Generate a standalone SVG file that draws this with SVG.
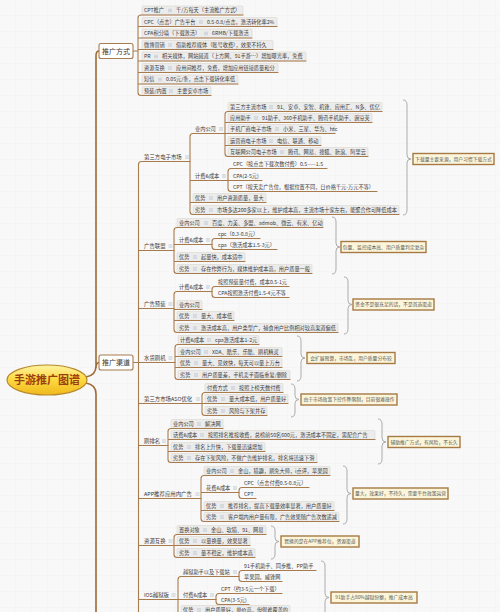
<svg xmlns="http://www.w3.org/2000/svg" width="500" height="612" viewBox="0 0 500 612">
<defs>
<style>
.t{font-family:"Noto Sans CJK SC","Noto Sans",sans-serif;font-size:5.2px;fill:#3a3a3a}
.l2{font-size:5.4px}
.lt{font-size:7px;text-anchor:middle;fill:#333}
.bx{fill:#ececec;stroke:#d9d2c6;stroke-width:0.5}
.ul{stroke:#a87b4c;stroke-width:1.2;fill:none;stroke-linecap:round}
.cn{stroke:#a87b4c;stroke-width:1.1;fill:none}
.mc{stroke:#9c6a35;stroke-width:1.6;fill:none}
.br{stroke:#a4a4a4;stroke-width:0.9;fill:none}
.nb{fill:#fcf5da;stroke:#a57a45;stroke-width:1.4}
.nt{font-family:"Noto Sans CJK SC","Noto Sans",sans-serif;font-size:4.8px;fill:#555;text-anchor:middle}
.lb{fill:#fff;stroke:#a87b4c;stroke-width:1.1}
</style>
<pattern id="grid" width="16" height="16" patternUnits="userSpaceOnUse"><path d="M16,0V16H0" fill="none" stroke="#ededed" stroke-width="0.5"/></pattern>
<linearGradient id="rg" x1="0" y1="0" x2="0" y2="1"><stop offset="0" stop-color="#fff3a0"/><stop offset="0.5" stop-color="#fbd93f"/><stop offset="1" stop-color="#f0b81c"/></linearGradient>
<g id="ic"><path d="M0,-1.3h4M0,0h4M0,1.3h4" stroke="#b4bfca" stroke-width="0.55"/></g>
</defs>
<rect width="500" height="612" fill="#f8f8f8"/>
<rect width="500" height="612" fill="url(#grid)"/>

<g id="connectors">
<path class="mc" d="M86,377C92,376 96,372 96,366V56Q96,51 99,51 M96,368Q96,362.5 99,362.5 M86,383C92,384 96,388 96,394V612"/>
<path class="cn" d="M133,51H138 M138,18V92.5 M138,18Q138,15 141,15H142 M138,26.5H142 M138,38H142 M138,49.5H142 M138,61H142 M138,72.5H142 M138,84H142 M138,92.5Q138,95.5 141,95.5H142"/>
<path class="cn" d="M133,362.5H142 M138.5,164.5V612 M138.5,164.5Q138.5,161.5 141.5,161.5H142 M138.5,250.5H142 M138.5,308.5H142 M138.5,403.5H142 M138.5,445.5H142 M138.5,498.5H142 M138.5,545.5H142 M138.5,599.5H142"/>
<path class="cn" d="M190,136.5V211.5 M190,136.5Q190,133.5 193,133.5 M190,180.5H193 M190,202.5H193 M190,211.5Q190,214.5 193,214.5"/>
<path class="cn" d="M225,114.5V153.5 M225,114.5Q225,111.5 228,111.5 M225,122.5H228 M225,133.5H228 M225,145.5H228 M225,153.5Q225,156.5 228,156.5"/>
<path class="cn" d="M228,171.5V188.5 M228,171.5Q228,168.5 231,168.5 M228,180.5H231 M228,188.5Q228,191.5 231,191.5"/>
<path class="cn" d="M174,230.5V270.5 M174,230.5Q174,227.5 177,227.5 M174,244.5H177 M174,261.5H177 M174,270.5Q174,273.5 177,273.5"/>
<path class="cn" d="M212,241.5V246.5 M212,241.5Q212,238.5 215,238.5 M212,246.5Q212,249.5 215,249.5"/>
<path class="cn" d="M174,294.5V329.5 M174,294.5Q174,291.5 177,291.5 M174,309.5H177 M174,320.5H177 M174,329.5Q174,332.5 177,332.5"/>
<path class="cn" d="M212,289.5V294.5 M212,289.5Q212,286.5 215,286.5 M212,294.5Q212,297.5 215,297.5"/>
<path class="cn" d="M175,347.5V376.5 M175,347.5Q175,344.5 178,344.5 M175,356.5H178 M175,367.5H178 M175,376.5Q175,379.5 178,379.5"/>
<path class="cn" d="M202,395.5V412.5 M202,395.5Q202,392.5 205,392.5 M202,403.5H205 M202,412.5Q202,415.5 205,415.5"/>
<path class="cn" d="M168,431.5V459.5 M168,431.5Q168,428.5 171,428.5 M168,439.5H171 M168,451.5H171 M168,459.5Q168,462.5 171,462.5"/>
<path class="cn" d="M201,478.5V518.5 M201,478.5Q201,475.5 204,475.5 M201,492.5H204 M201,510.5H204 M201,518.5Q201,521.5 204,521.5"/>
<path class="cn" d="M239,490.5V495.5 M239,490.5Q239,487.5 242,487.5 M239,495.5Q239,498.5 242,498.5"/>
<path class="cn" d="M174,537.5V554.5 M174,537.5Q174,534.5 177,534.5 M174,545.5H177 M174,554.5Q174,557.5 177,557.5"/>
<path class="cn" d="M178,579.5V612 M178,579.5Q178,576.5 181,576.5 M178,599.5H181"/>
<path class="cn" d="M239,573.5V578.5 M239,573.5Q239,570.5 242,570.5 M239,578.5Q239,581.5 242,581.5"/>
<path class="cn" d="M216,596.5V601.5 M216,596.5Q216,593.5 219,593.5 M216,601.5Q216,604.5 219,604.5"/>
</g>

<g id="summaries">
<path class="br" d="M403,100Q407,100 407,105V155Q407,159 411,159Q407,159 407,163V210Q407,215 403,215"/>
<path class="br" d="M332,217Q336,217 336,222V243Q336,247 340,247Q336,247 336,251V269Q336,274 332,274"/>
<path class="br" d="M344,277Q348,277 348,282V300.5Q348,304.5 352,304.5Q348,304.5 348,308.5V329Q348,334 344,334"/>
<path class="br" d="M297,336Q301,336 301,341V354Q301,358 305,358Q301,358 301,362V376Q301,381 297,381"/>
<path class="br" d="M291,384Q295,384 295,389V395.5Q295,399.5 299,399.5Q295,399.5 295,403.5V412Q295,417 291,417"/>
<path class="br" d="M378,419Q382,419 382,424V438Q382,442 386,442Q382,442 382,446V459Q382,464 378,464"/>
<path class="br" d="M343,466Q347,466 347,471V489.5Q347,493.5 351,493.5Q347,493.5 347,497.5V519Q347,524 343,524"/>
<path class="br" d="M271,526Q275,526 275,531V537.5Q275,541.5 279,541.5Q275,541.5 275,545.5V554Q275,559 271,559"/>
<path class="br" d="M321,561Q325,561 325,566V593.5Q325,597.5 329,597.5Q325,597.5 325,601.5V635Q325,640 321,640"/>
</g>

<g id="notes">
<g id="note1"><rect class="nb" x="413" y="153.5" width="81" height="11"/><text class="nt" x="453.5" y="160.8">下载量主要来源，用户习惯下载方式</text></g>
<g id="note2"><rect class="nb" x="341" y="241.5" width="85" height="11"/><text class="nt" x="383.5" y="248.8">包量、监控成本高、用户质量判定复杂</text></g>
<g id="note3"><rect class="nb" x="353" y="299" width="81" height="11"/><text class="nt" x="393.5" y="306.3">资金不是很充足的话，不是首选渠道</text></g>
<g id="note4"><rect class="nb" x="307" y="352.5" width="88" height="11"/><text class="nt" x="351" y="359.8">会扩展预算，市场乱，用户质量分布较</text></g>
<g id="note5"><rect class="nb" x="301" y="394" width="96" height="11"/><text class="nt" x="349" y="401.3">由于市场政策下控作弊限制，目前很难操作</text></g>
<g id="note6"><rect class="nb" x="388" y="436.5" width="72" height="11"/><text class="nt" x="424" y="443.8">辅助推广方式，有风险，不长久</text></g>
<g id="note7"><rect class="nb" x="353" y="488" width="95" height="11"/><text class="nt" x="400.5" y="495.3">量大，效果好，不持久，需要平台政策运营</text></g>
<g id="note8"><rect class="nb" x="281" y="536" width="78" height="11"/><text class="nt" x="320" y="543.3">置换的是在APP推荐位，资源渠道</text></g>
<g id="note9"><rect class="nb" x="331" y="592" width="86" height="11"/><text class="nt" x="374" y="599.3">91助手占80%越狱份额，推广成本高</text></g>
</g>

<g id="root"><ellipse cx="47" cy="380" rx="40" ry="15" fill="url(#rg)" stroke="#b8892c" stroke-width="1.2"/><text x="47" y="384" text-anchor="middle" font-family="Noto Sans CJK SC, sans-serif" font-weight="bold" font-size="11" fill="#9b3f10">手游推广图谱</text></g>
<g id="n-fangshi"><rect class="lb" x="99" y="43.5" width="34" height="15" rx="2"/><text class="t lt" x="116" y="53.5">推广方式</text></g>
<g id="n-qudao"><rect class="lb" x="99" y="355" width="34" height="15" rx="2"/><text class="t lt" x="116" y="365">推广渠道</text></g>

<g id="f1"><rect class="bx" x="142" y="6" width="101" height="9" rx="1"/><path class="ul" d="M142,15H243"/><text class="t" x="144" y="12.4">CPT推广</text><use href="#ic" x="168" y="10.5"/><text class="t" x="176" y="12.4">千/万每天（主流推广方式）</text></g>
<g id="f2"><rect class="bx" x="142" y="17.5" width="135" height="9" rx="1"/><path class="ul" d="M142,26.5H277"/><text class="t" x="144" y="23.9">CPC（点击）广告平台</text><use href="#ic" x="199" y="22"/><text class="t" x="207" y="23.9">0.5-0.8/点击，激活转化率2%</text></g>
<g id="f3"><rect class="bx" x="142" y="29" width="110" height="9" rx="1"/><path class="ul" d="M142,38H252"/><text class="t" x="144" y="35.4">CPA积分墙（下载激活）</text><use href="#ic" x="204" y="33.5"/><text class="t" x="212" y="35.4">6RMB/下载激活</text></g>
<g id="f4"><rect class="bx" x="142" y="40.5" width="131" height="9" rx="1"/><path class="ul" d="M142,49.5H273"/><text class="t" x="144" y="46.9">微博营销</text><use href="#ic" x="168" y="45"/><text class="t" x="176" y="46.9">借助推荐媒体（账号收费），效果不持久</text></g>
<g id="f5"><rect class="bx" x="142" y="52" width="164" height="9" rx="1"/><path class="ul" d="M142,61H306"/><text class="t" x="144" y="58.4">PR</text><use href="#ic" x="154" y="56.5"/><text class="t" x="162" y="58.4">相关媒体，网站频道（上方网、91手游…）增加曝光率，免费</text></g>
<g id="f6"><rect class="bx" x="142" y="63.5" width="136" height="9" rx="1"/><path class="ul" d="M142,72.5H278"/><text class="t" x="144" y="69.9">资源互换</text><use href="#ic" x="168" y="68"/><text class="t" x="176" y="69.9">应用间推荐，免费，增加应用链接质量和分</text></g>
<g id="f7"><rect class="bx" x="142" y="75" width="96" height="9" rx="1"/><path class="ul" d="M142,84H238"/><text class="t" x="144" y="81.4">短信</text><use href="#ic" x="158" y="79.5"/><text class="t" x="166" y="81.4">0.05元/条，点击下载转化率低</text></g>
<g id="f8"><rect class="bx" x="142" y="86.5" width="69" height="9" rx="1"/><path class="ul" d="M142,95.5H211"/><text class="t" x="144" y="92.9">预装/内置</text><use href="#ic" x="169" y="91"/><text class="t" x="177" y="92.9">主要安卓市场</text></g>

<g id="q1"><path class="ul" d="M142,161.5H190"/><text class="t l2" x="144" y="158.9">第三方电子市场</text><use href="#ic" x="185" y="157"/></g>
<g id="q1a"><path class="ul" d="M193,133.5H225"/><text class="t" x="195" y="130.9">业内公司</text><use href="#ic" x="219" y="129"/></g>
<g id="q1a1"><rect class="bx" x="228" y="102.5" width="154" height="9" rx="1"/><path class="ul" d="M228,111.5H382"/><text class="t" x="230" y="108.9">第三方主流市场</text><use href="#ic" x="269" y="107"/><text class="t" x="277" y="108.9">91、安卓、安智、机锋、应用汇、N多、优亿</text></g>
<g id="q1a2"><rect class="bx" x="228" y="113.5" width="144" height="9" rx="1"/><path class="ul" d="M228,122.5H372"/><text class="t" x="230" y="119.9">应用助手</text><use href="#ic" x="254" y="118"/><text class="t" x="262" y="119.9">91助手、360手机助手、腾讯手机助手、豌豆荚</text></g>
<g id="q1a3"><rect class="bx" x="228" y="124.5" width="107" height="9" rx="1"/><path class="ul" d="M228,133.5H335"/><text class="t" x="230" y="130.9">手机厂商电子市场</text><use href="#ic" x="275" y="129"/><text class="t" x="283" y="130.9">小米、三星、华为、htc</text></g>
<g id="q1a4"><rect class="bx" x="228" y="136.5" width="93" height="9" rx="1"/><path class="ul" d="M228,145.5H321"/><text class="t" x="230" y="142.9">运营商电子市场</text><use href="#ic" x="269" y="141"/><text class="t" x="277" y="142.9">电信、联通、移动</text></g>
<g id="q1a5"><rect class="bx" x="228" y="147.5" width="140" height="9" rx="1"/><path class="ul" d="M228,156.5H368"/><text class="t" x="230" y="153.9">互联网公司电子市场</text><use href="#ic" x="280" y="152"/><text class="t" x="288" y="153.9">腾讯、网易、搜狐、新浪、阿里云</text></g>
<g id="q1b"><path class="ul" d="M193,180.5H228"/><text class="t" x="195" y="177.9">计费&amp;成本</text><use href="#ic" x="222" y="176"/></g>
<g id="q1b1"><path class="ul" d="M231,168.5H327"/><text class="t" x="233" y="165.9">CPC（按点击下载次数付费）0.5——1.5</text></g>
<g id="q1b2"><path class="ul" d="M231,180.5H262"/><text class="t" x="233" y="177.9">CPA(2-5元)</text></g>
<g id="q1b3"><path class="ul" d="M231,191.5H377"/><text class="t" x="233" y="188.9">CPT（按天卖广告位，根据位置不同，日价格千元-万元不等）</text></g>
<g id="q1c"><rect class="bx" x="193" y="193.5" width="73" height="9" rx="1"/><path class="ul" d="M193,202.5H266"/><text class="t" x="195" y="199.9">优势</text><use href="#ic" x="209" y="198"/><text class="t" x="217" y="199.9">用户资源质量，量大</text></g>
<g id="q1d"><rect class="bx" x="193" y="205.5" width="206" height="9" rx="1"/><path class="ul" d="M193,214.5H399"/><text class="t" x="195" y="211.9">劣势</text><use href="#ic" x="209" y="210"/><text class="t" x="217" y="211.9">市场多达200多家以上，维护成本高，主流市场十家左右，能聚合作可降低成本</text></g>

<g id="q2"><path class="ul" d="M142,250.5H174"/><text class="t l2" x="144" y="247.9">广告联盟</text><use href="#ic" x="168.5" y="246"/></g>
<g id="q2a"><rect class="bx" x="177" y="218.5" width="146" height="9" rx="1"/><path class="ul" d="M177,227.5H323"/><text class="t" x="179" y="224.9">业内公司</text><use href="#ic" x="204" y="223"/><text class="t" x="212" y="224.9">百度、力美、多盟、admob、微云、有米、亿动</text></g>
<g id="q2b"><path class="ul" d="M177,244.5H212"/><text class="t" x="179" y="241.9">计费&amp;成本</text><use href="#ic" x="206" y="240"/></g>
<g id="q2b1"><path class="ul" d="M215,238.5H260"/><text class="t" x="218" y="235.9">cpc（0.3-0.8元）</text></g>
<g id="q2b2"><path class="ul" d="M215,249.5H277"/><text class="t" x="218" y="246.9">cpa（激活成本1.5-3元）</text></g>
<g id="q2c"><rect class="bx" x="177" y="252.5" width="68" height="9" rx="1"/><path class="ul" d="M177,261.5H245"/><text class="t" x="179" y="258.9">优势</text><use href="#ic" x="193" y="257"/><text class="t" x="201" y="258.9">起量快，成本适中</text></g>
<g id="q2d"><rect class="bx" x="177" y="264.5" width="135" height="9" rx="1"/><path class="ul" d="M177,273.5H312"/><text class="t" x="179" y="270.9">劣势</text><use href="#ic" x="193" y="269"/><text class="t" x="201" y="270.9">存在作弊行为，媒体维护成本高，用户质量一般</text></g>

<g id="q3"><path class="ul" d="M142,308.5H174"/><text class="t l2" x="144" y="305.9">广告预装</text><use href="#ic" x="168.5" y="304"/></g>
<g id="q3a"><path class="ul" d="M177,291.5H212"/><text class="t" x="179" y="288.9">计费&amp;成本</text><use href="#ic" x="206" y="287"/></g>
<g id="q3a1"><path class="ul" d="M215,286.5H289"/><text class="t" x="218" y="283.9">按照预装量付费，成本0.5-1元</text></g>
<g id="q3a2"><path class="ul" d="M215,297.5H289"/><text class="t" x="218" y="294.9">CPA按照激活付费1.5-4元不等</text></g>
<g id="q3b"><rect class="bx" x="177" y="300.5" width="25" height="9" rx="1"/><path class="ul" d="M177,309.5H202"/><text class="t" x="179" y="306.9">业内公司</text></g>
<g id="q3c"><rect class="bx" x="177" y="311.5" width="57" height="9" rx="1"/><path class="ul" d="M177,320.5H234"/><text class="t" x="179" y="317.9">优势</text><use href="#ic" x="193" y="316"/><text class="t" x="201" y="317.9">量大、成本低</text></g>
<g id="q3d"><rect class="bx" x="177" y="323.5" width="161" height="9" rx="1"/><path class="ul" d="M177,332.5H338"/><text class="t" x="179" y="329.9">劣势</text><use href="#ic" x="193" y="328"/><text class="t" x="201" y="329.9">激活成本高，用户类型广，捕食用户比例相对较高渠道偏低</text></g>

<g id="q4"><path class="ul" d="M142,362.5H175"/><text class="t l2" x="144" y="359.9">水货刷机</text><use href="#ic" x="168.5" y="358"/></g>
<g id="q4a"><rect class="bx" x="178" y="335.5" width="81" height="9" rx="1"/><path class="ul" d="M178,344.5H259"/><text class="t" x="180" y="341.9">计费&amp;成本</text><use href="#ic" x="207" y="340"/><text class="t" x="215" y="341.9">cpa激活成本1-2元</text></g>
<g id="q4b"><rect class="bx" x="178" y="347.5" width="104" height="9" rx="1"/><path class="ul" d="M178,356.5H282"/><text class="t" x="180" y="353.9">业内公司</text><use href="#ic" x="204" y="352"/><text class="t" x="212" y="353.9">XDA、酷乐、乐酷、刷机精灵</text></g>
<g id="q4c"><rect class="bx" x="178" y="358.5" width="104" height="9" rx="1"/><path class="ul" d="M178,367.5H282"/><text class="t" x="180" y="364.9">优势</text><use href="#ic" x="194" y="363"/><text class="t" x="202" y="364.9">量大、见效快，每天可以量上万台</text></g>
<g id="q4d"><rect class="bx" x="178" y="370.5" width="112" height="9" rx="1"/><path class="ul" d="M178,379.5H290"/><text class="t" x="180" y="376.9">劣势</text><use href="#ic" x="194" y="375"/><text class="t" x="202" y="376.9">用户质量差，手机卖手面临重复/删除</text></g>

<g id="q5"><path class="ul" d="M142,403.5H202"/><text class="t l2" x="144" y="400.9">第三方市场ASO优化</text><use href="#ic" x="196" y="399"/></g>
<g id="q5a"><rect class="bx" x="205" y="383.5" width="78" height="9" rx="1"/><path class="ul" d="M205,392.5H283"/><text class="t" x="207" y="389.9">付费方式</text><use href="#ic" x="231" y="388"/><text class="t" x="239" y="389.9">按照上榜天数付费</text></g>
<g id="q5b"><rect class="bx" x="205" y="394.5" width="83" height="9" rx="1"/><path class="ul" d="M205,403.5H288"/><text class="t" x="207" y="400.9">优势</text><use href="#ic" x="221" y="399"/><text class="t" x="229" y="400.9">量大成本低，用户质量好</text></g>
<g id="q5c"><rect class="bx" x="205" y="406.5" width="62" height="9" rx="1"/><path class="ul" d="M205,415.5H267"/><text class="t" x="207" y="412.9">劣势</text><use href="#ic" x="221" y="411"/><text class="t" x="229" y="412.9">风险与下架并存</text></g>

<g id="q6"><path class="ul" d="M142,445.5H168"/><text class="t l2" x="144" y="442.9">刷排名</text><use href="#ic" x="162" y="441"/></g>
<g id="q6a"><rect class="bx" x="171" y="419.5" width="52" height="9" rx="1"/><path class="ul" d="M171,428.5H223"/><text class="t" x="173" y="425.9">业内公司</text><use href="#ic" x="197" y="424"/><text class="t" x="205" y="425.9">解决网</text></g>
<g id="q6b"><rect class="bx" x="171" y="430.5" width="204" height="9" rx="1"/><path class="ul" d="M171,439.5H375"/><text class="t" x="173" y="436.9">话费&amp;成本</text><use href="#ic" x="200" y="435"/><text class="t" x="208" y="436.9">按照排名推按收费，总榜前50名600元，激活成本不固定，需配合广告</text></g>
<g id="q6c"><rect class="bx" x="171" y="442.5" width="94" height="9" rx="1"/><path class="ul" d="M171,451.5H265"/><text class="t" x="173" y="448.9">优势</text><use href="#ic" x="187" y="447"/><text class="t" x="195" y="448.9">排名上升快，下载量迅速增加</text></g>
<g id="q6d"><rect class="bx" x="171" y="453.5" width="146" height="9" rx="1"/><path class="ul" d="M171,462.5H317"/><text class="t" x="173" y="459.9">劣势</text><use href="#ic" x="187" y="458"/><text class="t" x="195" y="459.9">存在下架风险，不做广告维护排名，排名将迅速下滑</text></g>

<g id="q7"><path class="ul" d="M142,498.5H201"/><text class="t l2" x="144" y="495.9">APP推荐应用内广告</text><use href="#ic" x="195.5" y="494"/></g>
<g id="q7a"><rect class="bx" x="204" y="466.5" width="126" height="9" rx="1"/><path class="ul" d="M204,475.5H330"/><text class="t" x="206" y="472.9">业内公司</text><use href="#ic" x="230" y="471"/><text class="t" x="238" y="472.9">金山，猎趣，刷免大师，i点评，苹果园</text></g>
<g id="q7b"><path class="ul" d="M204,492.5H239"/><text class="t" x="206" y="489.9">花费&amp;成本</text><use href="#ic" x="233" y="488"/></g>
<g id="q7b1"><path class="ul" d="M242,487.5H309"/><text class="t" x="244" y="484.9">CPC（点击付费0.5-0.8元）</text></g>
<g id="q7b2"><path class="ul" d="M242,498.5H256"/><text class="t" x="244" y="495.9">CPT</text></g>
<g id="q7c"><rect class="bx" x="204" y="501.5" width="130" height="9" rx="1"/><path class="ul" d="M204,510.5H334"/><text class="t" x="206" y="507.9">优势</text><use href="#ic" x="220" y="506"/><text class="t" x="228" y="507.9">推荐排名，提高下载量效率显著，用户质量好</text></g>
<g id="q7d"><rect class="bx" x="204" y="512.5" width="135" height="9" rx="1"/><path class="ul" d="M204,521.5H339"/><text class="t" x="206" y="518.9">劣势</text><use href="#ic" x="220" y="517"/><text class="t" x="228" y="518.9">客户端内用户量有限，广告效果随广告次数递减</text></g>

<g id="q8"><path class="ul" d="M142,545.5H174"/><text class="t l2" x="144" y="542.9">资源互换</text><use href="#ic" x="168.5" y="541"/></g>
<g id="q8a"><rect class="bx" x="177" y="525.5" width="89" height="9" rx="1"/><path class="ul" d="M177,534.5H266"/><text class="t" x="179" y="531.9">置换对象</text><use href="#ic" x="203" y="530"/><text class="t" x="211" y="531.9">金山、软猎、91、网易</text></g>
<g id="q8b"><rect class="bx" x="177" y="536.5" width="73" height="9" rx="1"/><path class="ul" d="M177,545.5H250"/><text class="t" x="179" y="542.9">优势</text><use href="#ic" x="193" y="541"/><text class="t" x="201" y="542.9">以量换量，效果显著</text></g>
<g id="q8c"><rect class="bx" x="177" y="548.5" width="78" height="9" rx="1"/><path class="ul" d="M177,557.5H255"/><text class="t" x="179" y="554.9">劣势</text><use href="#ic" x="193" y="553"/><text class="t" x="201" y="554.9">量不稳定，维护成本高</text></g>

<g id="q9"><path class="ul" d="M142,599.5H178"/><text class="t l2" x="144" y="596.9">IOS越狱版</text><use href="#ic" x="171.5" y="595"/></g>
<g id="q9a"><path class="ul" d="M181,576.5H239"/><text class="t" x="183" y="573.9">越狱助手以及下载站</text><use href="#ic" x="233" y="572"/></g>
<g id="q9a1"><path class="ul" d="M242,570.5H316"/><text class="t" x="244" y="567.9">91手机助手、同步推、PP助手</text></g>
<g id="q9a2"><path class="ul" d="M242,581.5H282"/><text class="t" x="244" y="578.9">苹果园，威锋网</text></g>
<g id="q9b"><path class="ul" d="M181,599.5H216"/><text class="t" x="183" y="596.9">付费&amp;成本</text><use href="#ic" x="210" y="595"/></g>
<g id="q9b1"><path class="ul" d="M219,593.5H282"/><text class="t" x="221" y="590.9">CPT（约3-5元一个下载）</text></g>
<g id="q9b2"><path class="ul" d="M219,604.5H249"/><text class="t" x="221" y="601.9">CPA(3-5元)</text></g>
<g id="q9c"><rect class="bx" x="181" y="605.5" width="109" height="9" rx="1"/><path class="ul" d="M181,614.5H290"/><text class="t" x="183" y="611.9">优势</text><use href="#ic" x="197" y="610"/><text class="t" x="205" y="611.9">用户质量好，单价高，但很难覆盖的</text></g>
</svg>
